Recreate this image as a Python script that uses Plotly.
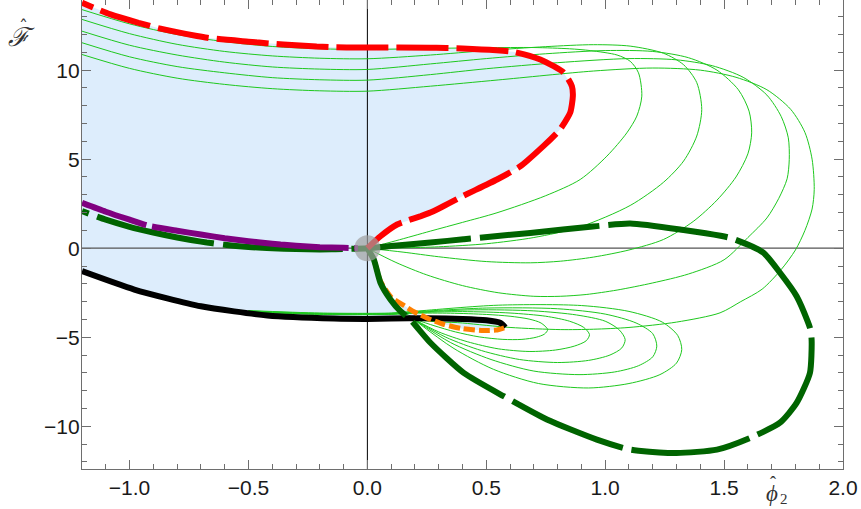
import plotly.graph_objects as go

X_RANGE = [-1.2, 2.0]
Y_RANGE = [-12.4, 13.94]
x_ticks = [-1.0, -0.5, 0.0, 0.5, 1.0, 1.5, 2.0]
y_ticks = [-10, -5, 0, 5, 10]

# red dashed boundary
red_x = [-1.2, -1.08, -0.87, -0.673, -0.5, -0.353, -0.143, 0.0, 0.265, 0.40, 0.613, 0.727, 0.825, 0.86, 0.864,
         0.853, 0.81, 0.74, 0.643, 0.545, 0.40, 0.265, 0.125, 0.055, 0.0]
red_y = [13.79, 13.13, 12.33, 11.82, 11.6, 11.44, 11.29, 11.27, 11.26, 11.22, 11.03, 10.6, 9.87, 9.1, 8.54,
         7.62, 6.67, 5.73, 4.6, 3.86, 2.92, 2.0, 1.33, 0.67, 0.0]

# purple
purple_x = [-1.2, -1.1, -1.0, -0.926, -0.8, -0.7, -0.6, -0.5, -0.4, -0.3, -0.2, -0.1, -0.04]
purple_y = [2.55, 2.05, 1.6, 1.28, 0.98, 0.77, 0.56, 0.39, 0.25, 0.14, 0.06, 0.02, 0.0]

# dark green thick (left branch -> origin -> right loop -> origin)
dg_x = [-1.2, -1.1, -1.0, -0.9, -0.8, -0.7, -0.6, -0.5, -0.4, -0.3, -0.2, -0.1, 0.0,
        0.1, 0.265, 0.404, 0.685, 0.965, 1.105, 1.315, 1.525, 1.665, 1.735, 1.805, 1.861, 1.868,
        1.861, 1.805, 1.735, 1.61, 1.47, 1.30, 1.105, 0.965, 0.755, 0.573, 0.405, 0.265, 0.18,
        0.139, 0.097, 0.055, 0.027, 0.0]
dg_y = [2.08, 1.6, 1.2, 0.88, 0.6, 0.37, 0.19, 0.07, 0.0, -0.05, -0.07, -0.05, 0.0,
        0.12, 0.32, 0.5, 0.86, 1.24, 1.39, 1.05, 0.58, -0.25, -1.38, -2.7, -4.47, -5.13,
        -7.0, -8.69, -9.8, -10.65, -11.31, -11.5, -11.31, -10.75, -9.62, -8.31, -7.0, -5.31, -4.0,
        -3.54, -2.88, -1.94, -0.63, 0.0]

# black thick
black_x = [-1.2, -0.98, -0.70, -0.42, -0.14, 0.0, 0.1, 0.25, 0.4, 0.5, 0.56, 0.58]
black_y = [-1.29, -2.32, -3.26, -3.78, -3.95, -3.97, -3.95, -3.93, -3.97, -4.05, -4.2, -4.45]

# orange dashed
orange_x = [0.0, 0.027, 0.055, 0.1, 0.152, 0.2, 0.25, 0.32, 0.4, 0.48, 0.54, 0.575]
orange_y = [0.0, -0.65, -1.85, -2.75, -3.2, -3.6, -3.92, -4.27, -4.52, -4.62, -4.6, -4.47]

# thin green upper loops
u1_x = [-1.2, -1.0, -0.8, -0.6, -0.4, -0.2, 0.0, 0.265, 0.5, 0.7, 0.85, 0.937, 1.05, 1.105, 1.14, 1.154,
        1.133, 1.091, 1.007, 0.895, 0.75, 0.545, 0.4, 0.265, 0.12, 0.0]
u1_y = [13.4, 12.6, 12.0, 11.6, 11.33, 11.2, 11.16, 11.22, 11.26, 11.27, 11.2, 11.1, 10.85, 10.5, 9.85, 8.54,
        7.42, 6.48, 5.17, 3.86, 2.95, 1.99, 1.45, 0.96, 0.42, 0.0]
u2_x = [-1.2, -1.0, -0.8, -0.6, -0.4, -0.2, 0.0, 0.265, 0.5, 0.75, 0.95, 1.105, 1.245, 1.33, 1.385, 1.406,
        1.385, 1.33, 1.245, 1.105, 0.895, 0.7, 0.5, 0.3, 0.15, 0.0]
u2_y = [12.85, 12.05, 11.45, 11.05, 10.8, 10.67, 10.64, 10.85, 11.1, 11.32, 11.43, 11.35, 10.95, 10.3, 9.3, 7.79,
        6.3, 4.9, 3.7, 2.4, 1.2, 0.6, 0.25, 0.08, 0.02, 0.0]
u3_x = [-1.2, -1.0, -0.8, -0.6, -0.4, -0.2, 0.0, 0.265, 0.5, 0.75, 1.0, 1.2, 1.35, 1.47, 1.56, 1.605, 1.616,
        1.6, 1.55, 1.47, 1.37, 1.245, 1.1, 0.95, 0.811, 0.685, 0.5, 0.3, 0.15, 0.0]
u3_y = [12.19, 11.4, 10.85, 10.45, 10.18, 10.06, 10.04, 10.35, 10.65, 10.92, 11.1, 11.05, 10.7, 10.0, 8.9, 7.7, 6.48,
        5.3, 4.0, 2.7, 1.5, 0.49, -0.1, -0.5, -0.73, -0.82, -0.75, -0.48, -0.22, 0.0]
u4_x = [-1.2, -1.0, -0.8, -0.6, -0.4, -0.2, 0.0, 0.265, 0.5, 0.8, 1.1, 1.3, 1.45, 1.58, 1.68, 1.74, 1.77, 1.774,
        1.765, 1.73, 1.68, 1.6, 1.5, 1.35, 1.2, 1.05, 0.92, 0.811, 0.7, 0.55, 0.4, 0.25, 0.12, 0.0]
u4_y = [11.54, 10.75, 10.2, 9.85, 9.58, 9.46, 9.44, 9.75, 10.08, 10.42, 10.65, 10.58, 10.25, 9.6, 8.6, 7.4, 6.2, 4.98,
        3.9, 2.8, 1.7, 0.6, -0.65, -1.45, -1.95, -2.35, -2.6, -2.7, -2.7, -2.5, -2.1, -1.5, -0.8, 0.0]
u5_x = [-1.2, -1.0, -0.8, -0.6, -0.4, -0.2, 0.0, 0.265, 0.55, 0.95, 1.2, 1.4, 1.55, 1.68, 1.78, 1.84, 1.87, 1.879,
        1.87, 1.84, 1.8, 1.74, 1.66, 1.57, 1.483, 1.3, 1.1, 0.95, 0.811, 0.6, 0.4, 0.2, 0.1, 0.05, 0.02, 0.0]
u5_y = [10.88, 10.1, 9.55, 9.2, 8.96, 8.84, 8.82, 9.1, 9.45, 9.95, 10.12, 10.0, 9.6, 8.9, 7.8, 6.5, 5.0, 3.3,
        2.2, 1.0, -0.1, -1.2, -2.3, -3.0, -3.63, -4.15, -4.45, -4.55, -4.57, -4.45, -4.2, -3.95, -2.9, -1.7, -0.7, 0.0]

# thin green lower loops
l1_x = [-0.5, -0.2, 0.1, 0.2, 0.35, 0.5, 0.6, 0.68, 0.73, 0.758, 0.745, 0.71, 0.65, 0.57, 0.47, 0.37, 0.28, 0.19]
l1_y = [-3.58, -3.72, -3.72, -3.65, -3.65, -3.72, -3.82, -3.98, -4.2, -4.57, -4.82, -5.0, -5.12, -5.12, -4.98, -4.7, -4.35, -3.95]
l2_x = [-0.5, -0.2, 0.1, 0.2, 0.4, 0.6, 0.75, 0.85, 0.91, 0.934, 0.92, 0.87, 0.79, 0.68, 0.55, 0.42, 0.3, 0.19]
l2_y = [-3.56, -3.7, -3.7, -3.62, -3.56, -3.64, -3.82, -4.1, -4.45, -4.85, -5.2, -5.5, -5.72, -5.8, -5.65, -5.25, -4.7, -3.95]
l3_x = [-0.5, -0.2, 0.1, 0.2, 0.45, 0.7, 0.88, 1.0, 1.06, 1.084, 1.07, 1.02, 0.93, 0.8, 0.64, 0.48, 0.33, 0.19]
l3_y = [-3.54, -3.68, -3.68, -3.6, -3.46, -3.52, -3.75, -4.1, -4.6, -5.13, -5.6, -6.0, -6.3, -6.42, -6.25, -5.75, -5.0, -3.95]
l4_x = [-0.5, -0.2, 0.1, 0.2, 0.5, 0.8, 1.0, 1.13, 1.2, 1.217, 1.2, 1.14, 1.04, 0.89, 0.7, 0.52, 0.35, 0.19]
l4_y = [-3.52, -3.66, -3.66, -3.57, -3.36, -3.4, -3.7, -4.2, -4.8, -5.5, -6.1, -6.6, -6.95, -7.1, -6.9, -6.25, -5.3, -3.95]
l5_x = [-0.5, -0.2, 0.1, 0.2, 0.55, 0.9, 1.1, 1.24, 1.305, 1.322, 1.3, 1.23, 1.1, 0.93, 0.72, 0.53, 0.36, 0.19]
l5_y = [-3.5, -3.64, -3.64, -3.54, -3.2, -3.22, -3.55, -4.15, -4.9, -5.69, -6.45, -7.1, -7.6, -7.85, -7.6, -6.8, -5.6, -3.95]

thin_loops = [(u1_x, u1_y), (u2_x, u2_y), (u3_x, u3_y), (u4_x, u4_y), (u5_x, u5_y),
              (l1_x, l1_y), (l2_x, l2_y), (l3_x, l3_y), (l4_x, l4_y), (l5_x, l5_y)]

origin_x = [0.0]
origin_y = [0.0]

fig = go.Figure()

# shaded region built from the boundary curves
fill_x = red_x + orange_x + black_x[::-1]
fill_y = red_y + orange_y + black_y[::-1]
fig.add_trace(go.Scatter(x=fill_x, y=fill_y, mode="lines", fill="toself",
                         fillcolor="rgb(221,237,252)", line=dict(width=0), hoverinfo="skip"))

# axes lines through origin
fig.add_trace(go.Scatter(x=[0, 0], y=Y_RANGE, mode="lines", line=dict(color="black", width=1)))
fig.add_trace(go.Scatter(x=X_RANGE, y=[0, 0], mode="lines", line=dict(color="#555555", width=1.3)))

for lx, ly in thin_loops:
    fig.add_trace(go.Scatter(x=lx, y=ly, mode="lines",
                             line=dict(color="rgb(30,200,30)", width=1, shape="spline", smoothing=0.8)))

fig.add_trace(go.Scatter(x=black_x, y=black_y, mode="lines",
                         line=dict(color="black", width=6, shape="spline", smoothing=0.6)))
fig.add_trace(go.Scatter(x=orange_x, y=orange_y, mode="lines",
                         line=dict(color="rgb(255,128,0)", width=5, dash="11px,4px", shape="spline", smoothing=0.6)))
fig.add_trace(go.Scatter(x=dg_x, y=dg_y, mode="lines",
                         line=dict(color="rgb(0,100,0)", width=6, dash="7px,9px,113px,0px", shape="spline", smoothing=0.6)))
fig.add_trace(go.Scatter(x=purple_x, y=purple_y, mode="lines",
                         line=dict(color="rgb(128,0,128)", width=6, dash="68px,6px,130px,0px", shape="spline", smoothing=0.6)))
fig.add_trace(go.Scatter(x=red_x, y=red_y, mode="lines",
                         line=dict(color="rgb(255,0,0)", width=6, dash="12px,8px,40px,0px", shape="spline", smoothing=0.6)))
fig.add_trace(go.Scatter(x=origin_x, y=origin_y, mode="markers",
                         marker=dict(size=26, color="rgba(160,160,160,0.7)", line=dict(width=0))))

axis_common = dict(showgrid=False, zeroline=False, showline=True, linecolor="#6e6e6e", linewidth=1.3,
                   mirror="allticks", ticks="inside", ticklen=9, tickcolor="#6e6e6e", tickwidth=1.2,
                   automargin=False,
                   tickfont=dict(family="Liberation Sans, Arial", size=21, color="#1a1a1a"))
fig.update_xaxes(range=X_RANGE, tickvals=x_ticks, tickformat=".1f",
                 minor=dict(ticks="inside", ticklen=5, dtick=0.1, tickcolor="#6e6e6e", tickwidth=1), **axis_common)
fig.update_yaxes(range=Y_RANGE, tickvals=y_ticks, ticklabelstandoff=-3,
                 minor=dict(ticks="inside", ticklen=5, dtick=1, tickcolor="#6e6e6e", tickwidth=1), **axis_common)

# axis labels (pixel placement, converted to paper coordinates below)
labels = [
    (21, 37, "<i>\u2131</i>", "DejaVu Serif", 26),
    (23, 27, "\u02c6", "DejaVu Serif", 18),
    (772, 493, "<i>\u03d5</i>", "Liberation Serif", 23),
    (773, 483, "\u02c6", "Liberation Serif", 18),
    (784, 499, "2", "Liberation Serif", 15),
]

W, H = 861, 509
pl, pr, pt, pb = 82, 18, 0, 40
pw, ph = W - pl - pr, H - pt - pb
for px, py, txt, fam, sz in labels:
    fig.add_annotation(x=(px - pl) / pw, y=(H - pb - py) / ph, xref="paper", yref="paper",
                       text=txt, showarrow=False, xanchor="center", yanchor="middle",
                       font=dict(family=fam, size=sz, color="#333333"))

fig.update_layout(width=W, height=H, margin=dict(l=pl, r=pr, t=pt, b=pb),
                  plot_bgcolor="white", paper_bgcolor="white", showlegend=False)

fig.write_html("out.html", config={"displayModeBar": False},
               post_script="document.body.style.margin='0';document.body.style.overflow='hidden';")
